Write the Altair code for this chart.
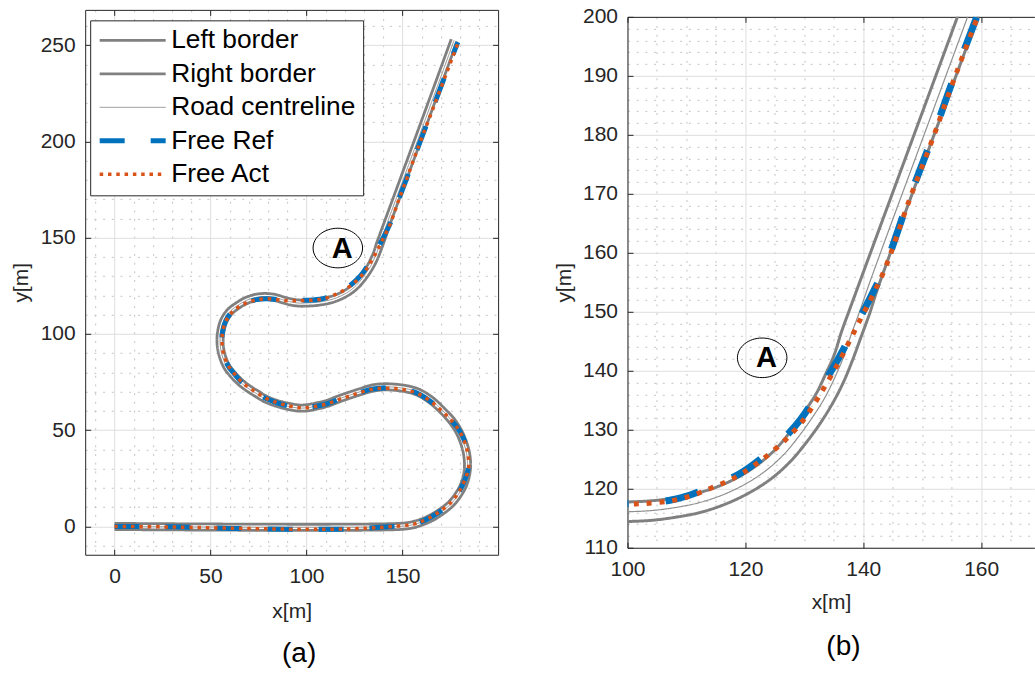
import altair as alt
import pandas as pd

FONT = "Liberation Sans"
AX = "#262626"
GRID = "#dedede"
MINOR = "#c4c4c4"

SERIES = ["Left border", "Right border", "Road centreline", "Free Ref", "Free Act"]
COLORS = ["#808080", "#808080", "#8f8f8f", "#0072BD", "#D95319"]

LEFT_BORDER = [
    (0, 1.6), (148, 1.6), (154.8, 2.4), (159.5, 3.8), (164.2, 5.9), (169.1, 8.9), (173.9, 12.6),
    (177.7, 17.4), (180.5, 22.5), (182.2, 30.2), (181.9, 36.8), (180.5, 42.5), (178.1, 48.3),
    (174.7, 53.5), (169.9, 58.9), (164.0, 64.2), (157.3, 68.3), (151.7, 69.9), (145.9, 70.7),
    (140.1, 70.9), (134.3, 70.2), (128.5, 68.5), (123.0, 66.7), (117.5, 64.8), (111.5, 62.5),
    (105.3, 60.9), (100.2, 60.0), (95.9, 59.9), (90.7, 60.7), (84.5, 62.3), (78.3, 64.6),
    (73.2, 67.6), (69.1, 70.2), (64.9, 73.3), (60.8, 77.4), (57.1, 82.2), (54.5, 88.6),
    (53.4, 94.9), (53.7, 101.3), (55.5, 107.7), (58.8, 112.6), (63.6, 116.3), (68.4, 119.0),
    (73.7, 120.6), (79.0, 121.0), (84.3, 120.4), (88.4, 119.1), (92.3, 118.2), (96.6, 117.6),
    (99.9, 117.75), (103.9, 117.95), (107.7, 118.4), (111.6, 119.2), (115.4, 120.4),
    (119.2, 122.2), (122.5, 124.4), (125.3, 126.9), (127.7, 129.8), (129.9, 132.9),
    (132.0, 136.1), (133.6, 139.4), (135.1, 142.8), (136.3, 146.6), (137.8, 150.7),
    (139.6, 155.6), (156.2, 200.6), (175.4, 253.1),
]
RIGHT_BORDER = [
    (0, -1.6), (148, -1.6), (155.2, -0.8), (160.5, 0.8), (165.8, 3.1), (170.9, 6.3), (176.1, 10.4),
    (180.3, 15.6), (183.5, 21.5), (185.4, 29.8), (185.1, 37.2), (183.5, 43.5), (180.9, 49.7),
    (177.3, 55.5), (172.1, 61.1), (166.0, 66.8), (158.7, 71.3), (152.3, 73.1), (146.1, 73.9),
    (139.9, 74.1), (133.7, 73.4), (127.5, 71.5), (122.0, 69.7), (116.5, 67.8), (110.5, 65.5),
    (104.7, 64.1), (99.8, 63.2), (96.1, 63.1), (91.3, 63.9), (85.5, 65.3), (79.7, 67.4),
    (74.8, 70.4), (70.9, 72.8), (67.1, 75.7), (63.2, 79.6), (59.9, 83.8), (57.5, 89.4),
    (56.6, 95.1), (56.9, 100.7), (58.5, 106.3), (61.2, 110.4), (65.4, 113.7), (69.6, 116.0),
    (74.3, 117.4), (79.0, 117.8), (83.7, 117.2), (87.6, 116.1), (91.7, 115.0), (96.4, 114.4),
    (100.1, 114.45), (104.1, 114.65), (108.3, 115.2), (112.4, 116.0), (116.6, 117.4),
    (120.8, 119.4), (124.5, 121.8), (127.7, 124.7), (130.3, 127.8), (132.7, 131.1),
    (134.8, 134.5), (136.6, 138.0), (138.1, 141.6), (139.5, 145.4), (141.0, 149.5),
    (142.6, 154.4), (159.2, 199.4), (178.4, 251.9),
]
CENTRELINE = [
    (0, 0), (148, 0), (155, 0.8), (160, 2.3), (165, 4.5), (170, 7.6), (175, 11.5), (179, 16.5),
    (182, 22), (183.8, 30), (183.5, 37), (182, 43), (179.5, 49), (176, 54.5), (171, 60),
    (165, 65.5), (158, 69.8), (152, 71.5), (146, 72.3), (140, 72.5), (134, 71.8), (128, 70),
    (122.5, 68.2), (117, 66.3), (111, 64), (105, 62.5), (100, 61.6), (96, 61.5), (91, 62.3),
    (85, 63.8), (79, 66), (74, 69), (70, 71.5), (66, 74.5), (62, 78.5), (58.5, 83), (56, 89),
    (55, 95), (55.3, 101), (57, 107), (60, 111.5), (64.5, 115), (69, 117.5), (74, 119),
    (79, 119.4), (84, 118.8), (88, 117.6), (92, 116.6), (96.5, 116.0), (100, 116.1),
    (104, 116.3), (108, 116.8), (112, 117.6), (116, 118.9), (120, 120.8), (123.5, 123.1),
    (126.5, 125.8), (129, 128.8), (131.3, 132.0), (133.4, 135.3), (135.1, 138.7),
    (136.6, 142.2), (137.9, 146.0), (139.4, 150.1), (141.1, 155.0), (157.7, 200), (176.9, 252.5),
]
FREE_REF = [
    (0, 0), (30, -0.2), (60, -1.0), (90, -1.4), (110, -1.5), (125, -1.3), (138, -0.4), (148, 0.2),
    (155, 1.0), (160, 2.5), (165, 4.9), (170, 8.1), (175, 12.1), (179, 17.3), (182, 23),
    (184.2, 30), (184.2, 37), (182.7, 43.3), (179.9, 49.3), (176, 54.4), (171, 59.4), (165, 64.7),
    (158, 69.1), (152, 70.9), (146, 71.7), (140, 71.9), (134, 71.3), (128, 69.6), (122.5, 67.8),
    (117, 66.0), (111, 63.8), (105, 62.4), (100, 61.7), (96, 61.7), (91, 62.5), (85, 64.1),
    (79, 66.4), (74, 69.4), (70, 72.0), (66, 75.1), (62.5, 79.1), (59.1, 83.5), (56.8, 89.2),
    (55.9, 95), (56.2, 101), (57.9, 106.7), (60.8, 111.1), (64.9, 114.3), (69.2, 116.5),
    (74, 117.8), (79, 118.3), (84, 118.0), (88, 117.5), (92, 117.3), (96.5, 117.4), (100, 117.5),
    (103, 117.6), (107, 118.0), (110.5, 118.9), (113.9, 120.2), (116.8, 121.4), (119.6, 122.9),
    (123.0, 125.4), (126.4, 128.4), (129.4, 131.8), (131.3, 134.6), (133.0, 137.4),
    (135.4, 141.4), (137.5, 145.3), (139.6, 149.3), (141.5, 153.0), (143.7, 157.7),
    (147.7, 169.0), (152.0, 180.3), (155.0, 188.7), (159.1, 199.6), (178.8, 251.6),
]
FREE_ACT = [
    (0, 0), (30, -0.3), (60, -0.9), (90, -1.4), (110, -1.5), (125, -1.2), (138, -0.5), (148, 0.2),
    (155, 1.0), (160, 2.6), (165, 5.0), (170, 8.2), (175, 12.2), (179, 17.4), (182, 23),
    (184.3, 30), (184.2, 37), (182.6, 43.2), (179.8, 49.3), (176, 54.5), (171, 59.5), (165, 64.8),
    (158, 69.0), (152, 70.8), (146, 71.6), (140, 71.8), (134, 71.2), (128, 69.6), (122.5, 67.8),
    (117, 66.0), (111, 63.8), (105, 62.4), (100, 61.7), (96, 61.7), (91, 62.6), (85, 64.2),
    (79, 66.5), (74, 69.5), (70, 72.1), (66, 75.2), (62.5, 79.2), (59.2, 83.6), (56.9, 89.3),
    (56.0, 95), (56.3, 101), (58, 106.6), (60.9, 111), (65, 114.2), (69.3, 116.4), (74, 117.7),
    (79, 118.2), (84, 117.9), (88, 117.4), (92, 117.2), (96.5, 117.3), (100, 117.4),
    (103, 117.5), (107, 117.9), (110.5, 118.7), (113.9, 120.0), (116.8, 121.2), (119.6, 122.7),
    (123.3, 125.3), (126.7, 128.2), (129.8, 131.6), (131.7, 134.4), (133.4, 137.2),
    (135.7, 141.2), (137.7, 145.1), (139.7, 149.1), (141.6, 152.8), (143.8, 157.6),
    (147.8, 168.9), (152.1, 180.2), (155.1, 188.6), (159.2, 199.5), (179.0, 251.3),
]

X_TICKS_A = [0, 50, 100, 150]
Y_TICKS_A = [0, 50, 100, 150, 200, 250]
X_MINOR_A = [v for v in range(-10, 200, 10) if v % 50]
Y_MINOR_A = [v for v in range(-10, 270, 10) if v % 50]
X_TICKS_B = [100, 120, 140, 160]
Y_TICKS_B = [110, 120, 130, 140, 150, 160, 170, 180, 190, 200]
X_MINOR_B = [v for v in range(105, 170, 5) if v % 20]
Y_MINOR_B = [v for v in range(112, 200, 2) if v % 10]

ANNOT_A = [{"x": 116.3, "y": 144.6, "label": "A"}]
ANNOT_B = [{"x": 122.85, "y": 142.2, "label": "A"}]

DASH_A = [[1, 0], [1, 0], [1, 0], [25, 26], [3.5, 4.8]]
WIDTH_A = [2.8, 2.8, 1.0, 5.0, 3.5]
DASH_B = [[1, 0], [1, 0], [1, 0], [34, 37], [5, 7.8]]
WIDTH_B = [3.0, 3.0, 1.2, 7.0, 5.0]

ELLIPSE = "M-1,0A1,0.8,0,1,1,1,0A1,0.8,0,1,1,-1,0Z"

rows = []
for name, pts in zip(SERIES, [LEFT_BORDER, RIGHT_BORDER, CENTRELINE, FREE_REF, FREE_ACT]):
    for i, (x, y) in enumerate(pts):
        rows.append({"series": name, "x": x, "y": y, "ord": i})
df = pd.DataFrame(rows)


def panel(xdom, ydom, W, H, xt, yt, xminor, yminor, dash, widths, annot, caption, cap_dx,
          with_legend, right_domain, title_pad):
    xs = alt.Scale(domain=xdom, nice=False, zero=False)
    ys = alt.Scale(domain=ydom, nice=False, zero=False)
    adf = pd.DataFrame(annot)
    lab = dict(labelFont=FONT, labelFontSize=21, labelColor=AX, titleFont=FONT,
               titleFontSize=21, titleColor=AX, titleFontWeight="normal", labelFlush=False,
               labelOverlap=False)
    if with_legend:
        leg = alt.Legend(title=None, orient="none", legendX=5, legendY=10.5, direction="vertical",
                         fillColor="white", strokeColor=AX, padding=7, rowPadding=6.5,
                         labelFontSize=26.3, labelFont=FONT, labelColor="black",
                         symbolSize=4356, symbolType="stroke", labelOffset=3, labelLimit=500,
                         clipHeight=26)
    else:
        leg = None
    lines = alt.Chart(df).mark_line(interpolate="catmull-rom", clip=True, strokeCap="butt",
                                    strokeJoin="round").encode(
        x=alt.X("x:Q", scale=xs, axis=alt.Axis(orient="bottom", values=xt, title="x[m]", grid=True,
                                                gridColor=GRID, ticks=False, domain=True,
                                                domainColor=AX, labelPadding=11,
                                                titlePadding=title_pad, **lab)),
        y=alt.Y("y:Q", scale=ys, axis=alt.Axis(orient="left", values=yt, title="y[m]", grid=True,
                                                gridColor=GRID, ticks=False, domain=True,
                                                domainColor=AX, labelPadding=10, titlePadding=8.2,
                                                **lab)),
        color=alt.Color("series:N", scale=alt.Scale(domain=SERIES, range=COLORS), legend=leg),
        strokeDash=alt.StrokeDash("series:N", scale=alt.Scale(domain=SERIES, range=dash), legend=leg),
        strokeWidth=alt.StrokeWidth("series:N", scale=alt.Scale(type="ordinal", domain=SERIES,
                                                                range=widths), legend=leg),
        order=alt.Order("ord:Q"),
    )
    minor = alt.Chart(adf).mark_point(opacity=0).encode(
        x=alt.X("x:Q", scale=xs, axis=alt.Axis(orient="bottom", values=xminor, grid=True,
                                                gridDash=[2, 6.7], gridColor=MINOR, labels=False,
                                                ticks=False, domain=False, title=None)),
        y=alt.Y("y:Q", scale=ys, axis=alt.Axis(orient="left", values=yminor, grid=True,
                                                gridDash=[2, 6.7], gridColor=MINOR, labels=False,
                                                ticks=False, domain=False, title=None)),
    )
    tick1 = alt.Chart(adf).mark_point(opacity=0).encode(
        x=alt.X("x:Q", scale=xs, axis=alt.Axis(orient="top", offset=-H, values=xt, ticks=True,
                                                tickSize=5.5, tickColor=AX, labels=False,
                                                domain=False, grid=False, title=None)),
        y=alt.Y("y:Q", scale=ys, axis=alt.Axis(orient="right", offset=-W, values=yt, ticks=True,
                                                tickSize=5.5, tickColor=AX, labels=False,
                                                domain=False, grid=False, title=None)),
    )
    tick2 = alt.Chart(adf).mark_point(opacity=0).encode(
        x=alt.X("x:Q", scale=xs, axis=alt.Axis(orient="bottom", offset=-H, values=xt, ticks=True,
                                                tickSize=5.5, tickColor=AX, labels=False,
                                                domain=True, domainColor=AX, grid=False, title=None)),
        y=alt.Y("y:Q", scale=ys, axis=alt.Axis(orient="left", offset=-W, values=yt,
                                                ticks=right_domain, tickSize=5.5, tickColor=AX,
                                                labels=False, domain=right_domain, domainColor=AX,
                                                grid=False, title=None)),
    )
    ell = alt.Chart(adf).mark_point(shape=ELLIPSE, size=2450, filled=False, stroke="black",
                                    strokeWidth=1, opacity=1).encode(
        x=alt.X("x:Q", scale=xs, axis=None), y=alt.Y("y:Q", scale=ys, axis=None))
    txt = alt.Chart(adf).mark_text(font=FONT, fontSize=29, fontWeight="bold", color="black",
                                   baseline="alphabetic", dx=4.3, dy=9.5).encode(
        x=alt.X("x:Q", scale=xs, axis=None), y=alt.Y("y:Q", scale=ys, axis=None), text="label:N")
    return alt.layer(minor, tick1, tick2, lines, ell, txt).resolve_axis(
        x="independent", y="independent").properties(
        width=W, height=H,
        title=alt.TitleParams(caption, orient="bottom", fontSize=28, font=FONT,
                              fontWeight="normal", color="black", offset=19 - (title_pad - 13),
                              dx=cap_dx, frame="group"))


pa = panel([-15.3, 199.8], [-14.7, 268.3], 413, 545, X_TICKS_A, Y_TICKS_A, X_MINOR_A, Y_MINOR_A,
           DASH_A, WIDTH_A, ANNOT_A, "(a)", 7.5, True, True, 14)
pb = panel([100, 169.03], [110, 200], 407, 531, X_TICKS_B, Y_TICKS_B, X_MINOR_B, Y_MINOR_B,
           DASH_B, WIDTH_B, ANNOT_B, "(b)", 12.5, False, False, 12)

chart = alt.hconcat(pa, pb, spacing=129.4, center=True, bounds="flush").resolve_scale(
    color="independent", strokeDash="independent", strokeWidth="independent"
).resolve_legend(color="independent", strokeDash="independent", strokeWidth="independent"
).configure_view(strokeWidth=0).properties(
    padding={"left": 10.2, "top": 5.8, "right": 0, "bottom": 0}, background="white")

chart.save("out.html", embed_options={"renderer": "svg", "actions": False})
